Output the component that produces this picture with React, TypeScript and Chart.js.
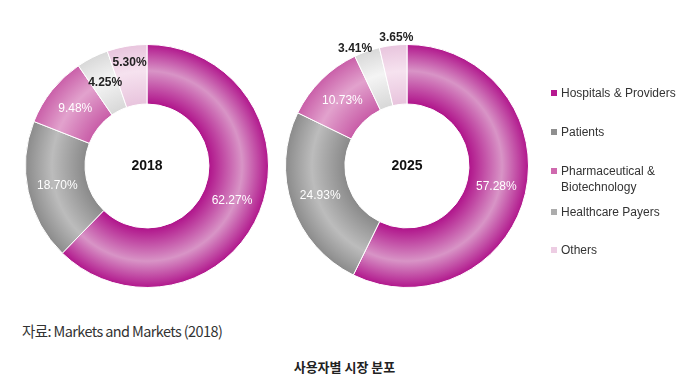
import React, { useEffect, useRef } from "react";
import { Chart, registerables } from "chart.js";
Chart.register(...registerables);

const categories = ["Hospitals & Providers", "Patients", "Pharmaceutical & Biotechnology", "Healthcare Payers", "Others"];
const legendLines = [["Hospitals & Providers"], ["Patients"], ["Pharmaceutical &", "Biotechnology"], ["Healthcare Payers"], ["Others"]];
const values2018 = [62.27, 18.7, 9.48, 4.25, 5.3];
const values2025 = [57.28, 24.93, 10.73, 3.41, 3.65];
const years = ["2018", "2025"];
const sourceText = "자료: Markets and Markets (2018)";
const titleText = "사용자별 시장 분포";

const baseColors = ["#b0148b", "#8a8a8a", "#c95ea8", "#d8d8d8", "#e8c4dd"];
const lightColors = ["#d894c6", "#bcbcbc", "#e2a2cd", "#f4f4f4", "#f6e2ef"];
const legendColors = ["#b5188f", "#8f8f8f", "#cf69ae", "#acacac", "#edcde3"];
const labelColors = ["#ffffff", "#ffffff", "#ffffff", "#222222", "#222222"];

const FONT = "'Liberation Sans', Arial, sans-serif";

function bg(ctx: any) {
  const i = ctx.dataIndex ?? 0;
  const chart = ctx.chart;
  const area = chart.chartArea;
  if (!area) return baseColors[i];
  const cx = (area.left + area.right) / 2;
  const cy = (area.top + area.bottom) / 2;
  const outer = Math.min(area.right - area.left, area.bottom - area.top) / 2;
  const inner = outer * 0.51;
  const g = chart.ctx.createRadialGradient(cx, cy, inner, cx, cy, outer);
  g.addColorStop(0, baseColors[i]);
  g.addColorStop(0.55, lightColors[i]);
  g.addColorStop(1, baseColors[i]);
  return g;
}

function Donut({ values, year, radial, shift, left, top }: { values: number[]; year: string; radial: number[]; shift: number[]; left: number; top: number }) {
  const ref = useRef<HTMLCanvasElement>(null);
  useEffect(() => {
    const labelPlugin = {
      id: "labels" + year,
      afterDatasetsDraw(chart: any) {
        const c = chart.ctx;
        const meta = chart.getDatasetMeta(0);
        meta.data.forEach((arc: any, i: number) => {
          const p = arc.getProps(["x", "y", "startAngle", "endAngle", "innerRadius", "outerRadius"], true);
          const a = (p.startAngle + p.endAngle) / 2 + (shift[i] * Math.PI) / 180;
          const r = p.innerRadius + (p.outerRadius - p.innerRadius) * radial[i];
          c.save();
          c.font = (i >= 3 ? "bold " : "") + "12px " + FONT;
          c.fillStyle = labelColors[i];
          c.textAlign = "center";
          c.textBaseline = "middle";
          c.fillText(values[i].toFixed(2) + "%", p.x + r * Math.cos(a), p.y + r * Math.sin(a));
          c.restore();
        });
        const a0 = meta.data[0];
        c.save();
        c.font = "bold 14px " + FONT;
        c.fillStyle = "#111";
        c.textAlign = "center";
        c.textBaseline = "middle";
        c.fillText(year, a0.x, a0.y);
        c.restore();
      },
    };
    const chart = new Chart(ref.current as HTMLCanvasElement, {
      type: "doughnut",
      data: {
        labels: categories,
        datasets: [
          {
            data: values,
            backgroundColor: bg as any,
            borderColor: "#ffffff",
            borderWidth: 1,
          },
        ],
      },
      options: {
        responsive: false,
        animation: false,
        cutout: "51%",
        layout: { padding: 28 },
        plugins: { legend: { display: false }, tooltip: { enabled: false } },
      },
      plugins: [labelPlugin],
    });
    return () => chart.destroy();
  }, []);
  return (
    <canvas
      ref={ref}
      width={300}
      height={300}
      style={{ position: "absolute", left, top, width: 300, height: 300 }}
    />
  );
}

export default function App() {
  const legendTops = [85, 124, 163, 204, 242];
  return (
    <div style={{ position: "absolute", left: 0, top: 0, width: 689, height: 379, background: "#fff", overflow: "hidden", fontFamily: FONT }}>
      <Donut values={values2018} year={years[0]} radial={[0.5, 0.5, 0.5, 0.52, 0.72]} shift={[0, 0, 0, 0, 0]} left={-3} top={16} />
      <Donut values={values2025} year={years[1]} radial={[0.5, 0.5, 0.5, 1.12, 1.12]} shift={[0, 0, 0, -4.5, 1.8]} left={257} top={16} />
      {legendLines.map((lines, i) => (
        <div key={i} style={{ position: "absolute", left: 551, top: legendTops[i], fontSize: 12, lineHeight: "16px", color: "#333" }}>
          <span style={{ position: "absolute", left: 0, top: 5, width: 6, height: 6, background: legendColors[i] }} />
          <div style={{ marginLeft: 10 }}>
            {lines.map((l, j) => (
              <div key={j} style={{ whiteSpace: "nowrap" }}>{l}</div>
            ))}
          </div>
        </div>
      ))}
      <div style={{ position: "absolute", left: 22, top: 320, fontSize: 14.5, letterSpacing: -0.6, color: "#333", fontFamily: "'Noto Sans CJK KR', sans-serif", whiteSpace: "nowrap" }}>
        {sourceText}
      </div>
      <div style={{ position: "absolute", left: 0, width: 689, top: 357, textAlign: "center", fontSize: 13, fontWeight: "bold", color: "#222", fontFamily: "'Noto Sans CJK KR', sans-serif" }}>
        {titleText}
      </div>
    </div>
  );
}
